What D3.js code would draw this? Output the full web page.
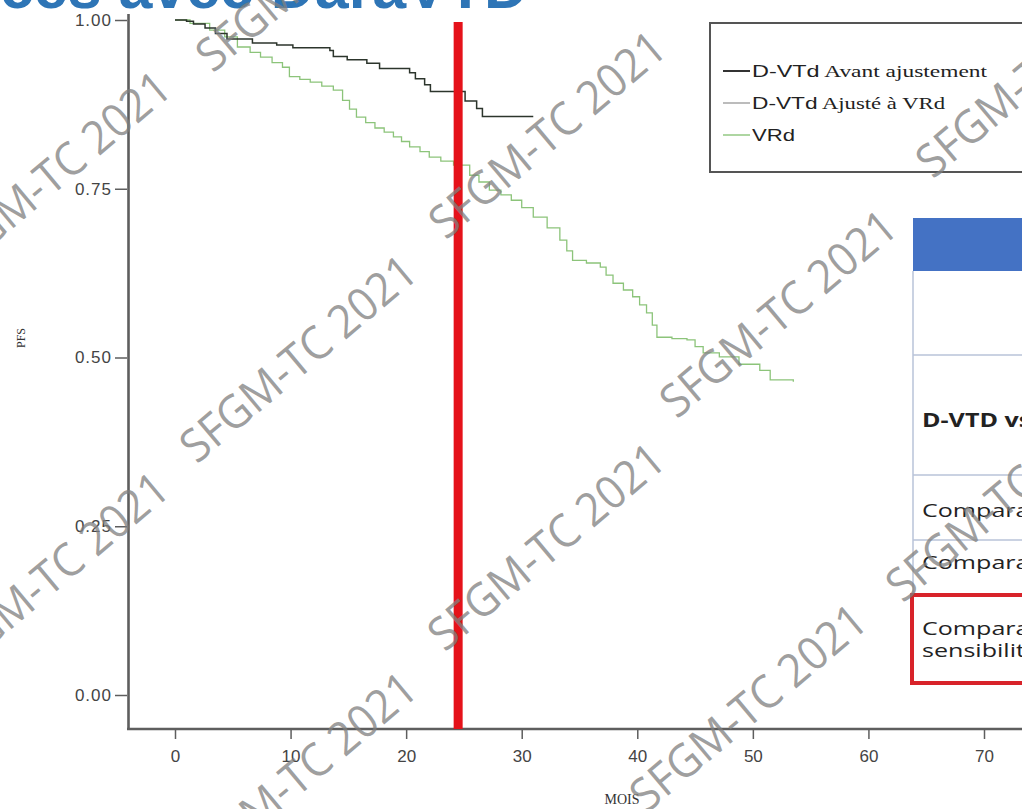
<!DOCTYPE html>
<html><head><meta charset="utf-8">
<script src="https://cdn.jsdelivr.net/npm/d3@7"></script>
<style>body{margin:0;background:#fff;overflow:hidden} svg{display:block}</style>
</head><body><svg id="c" width="1022" height="809"></svg>
<script>
// ---- data ----
const xTicks = [0, 10, 20, 30, 40, 50, 60, 70];
const yTicks = [0, 0.25, 0.5, 0.75, 1];
const seriesNames = ["D-VTd Avant ajustement", "D-VTd Ajusté à VRd", "VRd"];
// D-VTd avant ajustement (months, PFS)
const timesA = [0, 1, 1.6, 2.6, 3.5, 4.5, 6.7, 8.8, 10.2, 13.4, 13.7, 14.9, 16.6, 17.7, 20.3, 20.8, 21.6, 22.1, 25.1, 26.1, 26.6, 31];
const survA  = [1.0, 0.998, 0.994, 0.988, 0.98, 0.972, 0.966, 0.963, 0.959, 0.955, 0.946, 0.941, 0.936, 0.928, 0.922, 0.913, 0.904, 0.894, 0.88, 0.869, 0.857, 0.857];
// VRd
const timesV = [0, 1.3, 3, 4.3, 5.4, 6.5, 7.4, 8.4, 9.3, 9.9, 10.8, 11.7, 12.7, 13.7, 14.5, 15.1, 15.7, 16.5, 17.3, 18.1, 18.9, 19.6, 20.3, 21.2, 22, 23, 24.1, 25.5, 26.3, 27.2, 28.2, 29.1, 30, 31, 32.2, 33.3, 33.9, 34.4, 35.6, 36.8, 37.3, 37.9, 38.8, 39.6, 40.2, 40.8, 41.3, 41.7, 43, 44.3, 45, 45.7, 47.1, 48.8, 50.6, 51.5, 53.5];
const survV  = [1, 0.995, 0.985, 0.975, 0.96, 0.952, 0.945, 0.937, 0.93, 0.916, 0.912, 0.908, 0.902, 0.896, 0.881, 0.868, 0.856, 0.848, 0.84, 0.834, 0.827, 0.82, 0.812, 0.805, 0.797, 0.791, 0.785, 0.77, 0.76, 0.748, 0.741, 0.733, 0.722, 0.708, 0.692, 0.674, 0.658, 0.644, 0.64, 0.634, 0.622, 0.61, 0.6, 0.59, 0.578, 0.566, 0.548, 0.53, 0.528, 0.526, 0.516, 0.507, 0.501, 0.49, 0.481, 0.467, 0.464];
const cutoffMonth = 24.5;
const titleText = "ces avec DaraVTD";
const xLabel = "MOIS";
const yLabel = "PFS";
const tableTexts = ["D-VTD vs VRd", "Comparaison", "Comparaison", "Comparaison", "sensibilité"];
const watermarkText = "SFGM-TC 2021";

// ---- layout ----
const svg = d3.select("#c");
svg.append("rect").attr("width", 1022).attr("height", 809).attr("fill", "#fff");

const x = d3.scaleLinear().domain([0, 70]).range([175, 984]);
const y = d3.scaleLinear().domain([0, 1]).range([695, 20]);

// title (cut at top)
svg.append("text").text(titleText)
  .attr("x", 0).attr("y", 8)
  .attr("textLength", 528).attr("lengthAdjust", "spacingAndGlyphs")
  .attr("font-family", "Liberation Sans, Arial, sans-serif")
  .attr("font-weight", "bold").attr("font-size", 62).attr("fill", "#2e75b6");

// axes
const axisCol = "#5e5e5e";
const gy = svg.append("g").attr("transform", "translate(127,0)")
  .call(d3.axisLeft(y).tickValues(yTicks).tickFormat(d3.format(".2f")).tickSize(12).tickPadding(3));
gy.select(".domain").remove();
gy.selectAll("line").attr("stroke", axisCol).attr("stroke-width", 1.5);
gy.selectAll("text").attr("font-family", "Liberation Sans, Arial, sans-serif").attr("font-size", 17)
  .attr("letter-spacing", 1).attr("fill", "#444");
svg.append("line").attr("x1", 128.5).attr("x2", 128.5).attr("y1", 14).attr("y2", 729)
  .attr("stroke", axisCol).attr("stroke-width", 2.6);

const gx = svg.append("g").attr("transform", "translate(0,729)")
  .call(d3.axisBottom(x).tickValues(xTicks).tickSize(10).tickPadding(11));
gx.select(".domain").remove();
gx.selectAll("line").attr("stroke", axisCol).attr("stroke-width", 1.5);
gx.selectAll("text").attr("font-family", "Liberation Sans, Arial, sans-serif").attr("font-size", 17).attr("fill", "#444");
svg.append("line").attr("x1", 127).attr("x2", 1022).attr("y1", 729).attr("y2", 729)
  .attr("stroke", axisCol).attr("stroke-width", 2.6);

svg.append("text").text(xLabel).attr("x", 622).attr("y", 804).attr("text-anchor", "middle")
  .attr("font-family", "Liberation Serif, Times New Roman, serif").attr("font-size", 14).attr("fill", "#333");
svg.append("text").text(yLabel).attr("transform", "translate(25,338) rotate(-90)").attr("text-anchor", "middle")
  .attr("font-family", "Liberation Serif, Times New Roman, serif").attr("font-size", 12).attr("fill", "#333");

// curves
const line = d3.line().x(d => x(d[0])).y(d => y(d[1])).curve(d3.curveStepAfter);
const dataV = timesV.map((t, i) => [t, survV[i]]);
const dataA = timesA.map((t, i) => [t, survA[i]]);
svg.append("path").datum(dataV).attr("d", line).attr("fill", "none")
  .attr("stroke", "#8cc47a").attr("stroke-width", 1.3);
svg.append("path").datum(dataA).attr("d", line).attr("fill", "none")
  .attr("stroke", "#2c352c").attr("stroke-width", 1.5);

// cutoff red line
svg.append("line").attr("x1", x(cutoffMonth)).attr("x2", x(cutoffMonth))
  .attr("y1", 22).attr("y2", 729).attr("stroke", "#e5121a").attr("stroke-width", 9);

// legend
const lg = svg.append("g");
lg.append("rect").attr("x", 710).attr("y", 23).attr("width", 340).attr("height", 149)
  .attr("fill", "#fff").attr("stroke", "#555").attr("stroke-width", 2);
const legCols = ["#333", "#a0a0a0", "#8cc47a"];
const legLens = [235, 193, 43];
seriesNames.forEach((n, i) => {
  const yy = 71 + i * 32;
  lg.append("line").attr("x1", 723).attr("x2", 750).attr("y1", yy).attr("y2", yy)
    .attr("stroke", legCols[i]).attr("stroke-width", i === 0 ? 2 : 1.4);
  const parts = n.split(" ");
  const t = lg.append("text").attr("x", 752).attr("y", yy + 6)
    .attr("font-size", 17).attr("fill", "#222")
    .attr("textLength", legLens[i]).attr("lengthAdjust", "spacingAndGlyphs");
  t.append("tspan").attr("font-family", "Liberation Sans, Arial, sans-serif").text(parts[0]);
  if (parts.length > 1) t.append("tspan").attr("font-family", "Liberation Serif, Times New Roman, serif").text(" " + parts.slice(1).join(" "));
});

// table fragment
const tb = svg.append("g");
tb.append("rect").attr("x", 913).attr("y", 218).attr("width", 120).attr("height", 53).attr("fill", "#4472c4");
tb.append("line").attr("x1", 913).attr("x2", 913).attr("y1", 271).attr("y2", 594).attr("stroke", "#b9c3d8").attr("stroke-width", 1.5);
[355, 475, 540].forEach(v => tb.append("line").attr("x1", 913).attr("x2", 1022).attr("y1", v).attr("y2", v)
  .attr("stroke", "#b9c3d8").attr("stroke-width", 1.5));
tb.append("rect").attr("x", 912).attr("y", 595).attr("width", 130).attr("height", 88)
  .attr("fill", "none").attr("stroke", "#d8232a").attr("stroke-width", 4);
const tPos = [[427, true], [517, false], [569, false], [635, false], [657, false]];
tableTexts.forEach((s, i) => {
  tb.append("text").text(s).attr("transform", `translate(922,${tPos[i][0]}) scale(1.32,1)`)
    .attr("font-family", "Open Sans, Noto Sans, sans-serif").attr("font-size", 19)
    .attr("font-weight", tPos[i][1] ? "bold" : "normal").attr("fill", "#222");
});

// watermarks
const wmCenters = [[313, -34], [51, 173], [546, 133], [1033, 72], [297, 357], [777, 312], [49, 574], [545, 545], [1003, 496], [297, 774], [747, 706]];
wmCenters.forEach(c => {
  svg.append("text").text(watermarkText)
    .attr("transform", `translate(${c[0]},${c[1]}) rotate(-40)`)
    .attr("text-anchor", "middle").attr("dominant-baseline", "central")
    .attr("textLength", 292).attr("lengthAdjust", "spacingAndGlyphs")
    .attr("font-family", "Open Sans, sans-serif").attr("font-size", 46)
    .attr("fill", "#808080").attr("fill-opacity", 0.75);
});
</script></body></html>
